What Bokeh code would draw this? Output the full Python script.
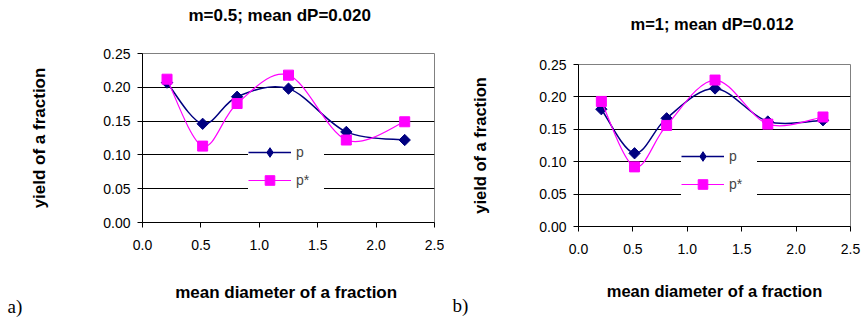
import numpy as np
from bokeh.plotting import figure
from bokeh.layouts import row
from bokeh.models import (Range1d, FixedTicker, Legend, LegendItem, NumeralTickFormatter,
                          ColumnDataSource, Title)
from bokeh.embed import file_html
from bokeh.resources import INLINE

# ---- data ----
x_a = [0.21, 0.515, 0.81, 1.25, 1.745, 2.245]
p_a = [0.207, 0.146, 0.186, 0.198, 0.134, 0.122]
ps_a = [0.212, 0.113, 0.176, 0.218, 0.122, 0.149]

x_b = [0.21, 0.515, 0.81, 1.255, 1.74, 2.247]
p_b = [0.181, 0.113, 0.167, 0.213, 0.162, 0.164]
ps_b = [0.193, 0.092, 0.156, 0.226, 0.158, 0.169]

x_ticks = [0.0, 0.5, 1.0, 1.5, 2.0, 2.5]
y_ticks = [0.0, 0.05, 0.10, 0.15, 0.20, 0.25]

title_a = "m=0.5; mean dP=0.020"
title_b = "m=1; mean dP=0.012"
xlabel_a = "mean diameter of a  fraction"
xlabel_b = "mean diameter of a fraction"
ylabel = "yield of a fraction"
series_names = ["p", "p*"]

NAVY = "#000080"
MAGENTA = "#FF00FF"
FONT = "Liberation Sans"
NAN = float("nan")


def bezier_segments(xs, ys):
    xs = np.asarray(xs, float)
    ys = np.asarray(ys, float)
    n = len(xs)
    X = np.concatenate([[xs[0]], xs, [xs[-1]]])
    Y = np.concatenate([[ys[0]], ys, [ys[-1]]])
    P0x, P1x, P2x, P3x = X[0:n - 1], X[1:n], X[2:n + 1], X[3:n + 2]
    P0y, P1y, P2y, P3y = Y[0:n - 1], Y[1:n], Y[2:n + 1], Y[3:n + 2]
    return dict(x0=P1x, y0=P1y, x1=P2x, y1=P2y,
                cx0=P1x + (P2x - P0x) / 6, cy0=P1y + (P2y - P0y) / 6,
                cx1=P2x - (P3x - P1x) / 6, cy1=P2y - (P3y - P1y) / 6)


def make_chart(xs, p_vals, ps_vals, title, xlabel, letter, width, border, lab):
    bl, br, bt, bb = border
    p = figure(width=width, height=319, output_backend="svg", toolbar_location=None,
               x_range=Range1d(0, 2.5), y_range=Range1d(0, 0.25),
               min_border=0, min_border_left=bl, min_border_right=br,
               min_border_top=bt, min_border_bottom=bb)
    p.frame_align = False
    p.background_fill_color = "white"
    p.border_fill_color = "white"
    p.outline_line_color = "#808080"
    p.outline_line_width = 1
    p.xgrid.visible = False
    p.ygrid.grid_line_color = "black"
    p.ygrid.grid_line_width = 1
    p.xaxis.ticker = FixedTicker(ticks=x_ticks)
    p.yaxis.ticker = FixedTicker(ticks=y_ticks)
    p.xaxis.formatter = NumeralTickFormatter(format="0.0")
    p.yaxis.formatter = NumeralTickFormatter(format="0.00")
    for ax in (p.xaxis, p.yaxis):
        ax.axis_line_color = "black"
        ax.major_tick_line_color = "black"
        ax.major_tick_out = 5
        ax.major_tick_in = 0
        ax.minor_tick_line_color = None
        ax.major_label_text_font = FONT
        ax.major_label_text_font_size = "14px"
        ax.major_label_text_color = "black"
        ax.axis_label_text_font = FONT
        ax.axis_label_text_font_size = lab["fs"]
        ax.axis_label_text_font_style = "bold"
        ax.axis_label_text_color = "black"
    p.xaxis.major_label_standoff = 12
    p.yaxis.major_label_standoff = 7
    p.xaxis.axis_label = xlabel
    p.yaxis.axis_label = ylabel
    p.xaxis.axis_label_standoff = lab["xstand"]
    p.yaxis.axis_label_standoff = lab["ystand"]

    # spacer (inner) + real title (outer, plot title is stacked outermost)
    p.add_layout(Title(text=" ", text_font_size="1px", standoff=lab["spacer"]), "above")
    p.title.text = title
    p.title.text_font = FONT
    p.title.text_font_size = lab["fs"]
    p.title.text_font_style = "bold"
    p.title.text_color = "black"
    p.title.align = "left"
    p.title.offset = lab["toff"]
    p.title.standoff = 0

    p.add_layout(Title(text=letter, align="left", offset=lab["loff"], text_font="Liberation Serif",
                       text_font_size="19px", text_font_style="normal", text_color="black",
                       standoff=lab["lstand"]), "below")

    sa = bezier_segments(xs, p_vals)
    sb = bezier_segments(xs, ps_vals)
    p.bezier(source=ColumnDataSource(sa), x0="x0", y0="y0", x1="x1", y1="y1",
             cx0="cx0", cy0="cy0", cx1="cx1", cy1="cy1", line_color=NAVY, line_width=1.5)
    p.scatter(xs, p_vals, marker="square", angle=np.pi / 4, size=8,
              fill_color=NAVY, line_color=NAVY)
    p.bezier(source=ColumnDataSource(sb), x0="x0", y0="y0", x1="x1", y1="y1",
             cx0="cx0", cy0="cy0", cx1="cx1", cy1="cy1", line_color=MAGENTA, line_width=1.2)
    p.scatter(xs, ps_vals, marker="square", size=10,
              fill_color=MAGENTA, line_color=MAGENTA)

    # legend-only renderers (no visible data)
    l1 = p.line(x=[NAN], y=[NAN], line_color=NAVY, line_width=1.5)
    m1 = p.scatter(x=[NAN], y=[NAN], marker="diamond", fill_color=NAVY, line_color=NAVY)
    l2 = p.line(x=[NAN], y=[NAN], line_color=MAGENTA, line_width=1.2)
    m2 = p.scatter(x=[NAN], y=[NAN], marker="square", fill_color=MAGENTA, line_color=MAGENTA)

    legend = Legend(items=[LegendItem(label=series_names[0], renderers=[l1, m1]),
                           LegendItem(label=series_names[1], renderers=[l2, m2])],
                    location=lab["legend"], orientation="vertical",
                    background_fill_color="white", background_fill_alpha=1.0,
                    border_line_color=None, label_text_font=FONT,
                    label_text_font_size="14px", glyph_width=43, glyph_height=24,
                    label_height=15, label_width=28, spacing=4, padding=10, margin=0,
                    label_standoff=5)
    p.add_layout(legend)
    return p


pa = make_chart(x_a, p_a, ps_a, title_a, xlabel_a, "a)", 444, (142, 10, 53, 97),
                dict(legend=(106, 30), fs="17px", toff=46, spacer=26, xstand=30, ystand=51,
                     loff=-135, lstand=-21))
pb = make_chart(x_b, p_b, ps_b, title_b, xlabel_b, "b)", 419, (134, 13, 64, 93),
                dict(legend=(103, 30), fs="16.5px", toff=52, spacer=29, xstand=25, ystand=47,
                     loff=-126, lstand=-20))

layout = row(pa, pb)
open("out.html", "w").write(file_html(layout, INLINE))
